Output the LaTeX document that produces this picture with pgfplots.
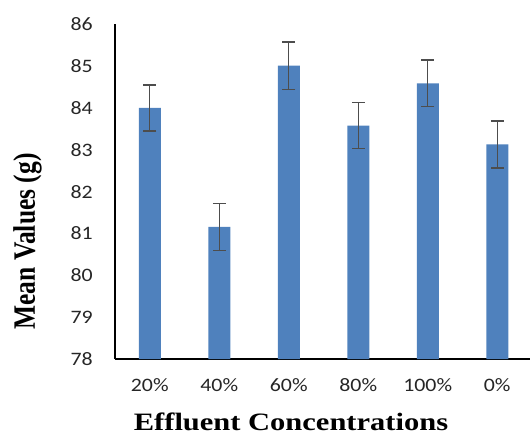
\documentclass[border=0pt]{standalone}
\usepackage{fontspec}
\usepackage{graphicx}
\usepackage{pgfplots}
\pgfplotsset{compat=1.18}
\newfontfamily\tickfont[FakeStretch=1.15]{Carlito}
\newfontfamily\labfont[FakeStretch=1.22]{Liberation Serif}
\newfontfamily\ylabfont{Liberation Serif}
\definecolor{barblue}{HTML}{4F81BD}
\definecolor{errgray}{HTML}{4D4D4D}
\begin{document}
\begin{tikzpicture}[x=1pt,y=1pt]
\useasboundingbox (0,0) rectangle (530,437);
\begin{axis}[
  at={(115pt,78pt)}, anchor=south west,
  scale only axis, width=417pt, height=334.7pt,
  xmin=-0.5, xmax=5.5, ymin=78, ymax=86,
  axis x line*=bottom, axis y line*=left,
  xtick={0,1,2,3,4,5},
  xticklabels={20\%,40\%,60\%,80\%,100\%,0\%},
  ytick={78,79,80,81,82,83,84,85,86},
  major tick length=0pt,
  tick label style={font=\tickfont\fontsize{19}{20}\selectfont, text=black!85},
  /pgf/number format/assume math mode=true,
  yticklabel style={anchor=east, inner sep=0pt, xshift=-22pt},
  xticklabel style={anchor=north, inner sep=0pt, yshift=-19pt},
  axis line style={black, line width=1.2pt},
  ybar, bar width=22pt,
]
\addplot[fill=barblue, draw=none,
  error bars/.cd, y dir=both, y explicit,
  error bar style={line width=1.4pt, errgray},
  error mark options={rotate=90, mark size=6.5pt, line width=1.4pt, errgray}]
  table[x=x, y=y, y error=e] {
x y e
0 84.00 0.55
1 81.16 0.56
2 85.01 0.57
3 83.58 0.55
4 84.59 0.56
5 83.13 0.56
};
\end{axis}
\node[rotate=90, anchor=base, inner sep=0pt] at (35,195.5) {\scalebox{1}[1.22]{\ylabfont\bfseries\fontsize{25.5}{28}\selectfont Mean Values (g)}};
\node[anchor=base, inner sep=0pt] at (291,6.5) {\labfont\bfseries\fontsize{25}{28}\selectfont Effluent Concentrations};
\end{tikzpicture}
\end{document}
